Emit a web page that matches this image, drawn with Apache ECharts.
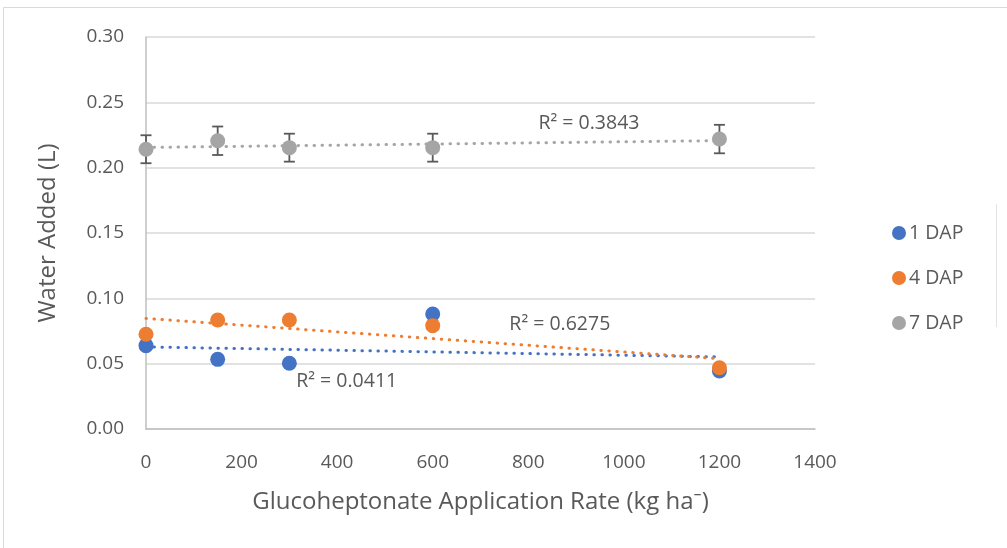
<!doctype html>
<html lang="en">
<head>
    <meta charset="UTF-8">
    <title>Water Added vs Glucoheptonate Rate</title>
    <script src="https://cdn.jsdelivr.net/npm/echarts@6/dist/echarts.min.js"></script>
    <style>
        html, body { margin: 0; padding: 0; background: #fff; }
        #chart { width: 1007px; height: 548px; }
    </style>
</head>
<body>
<div id="chart"></div>
<script>
    // data
    const rates = [0, 150, 300, 600, 1200]
    const dap1 = [0.0638, 0.0533, 0.0503, 0.0880, 0.0444]
    const dap4 = [0.0725, 0.0834, 0.0834, 0.0791, 0.0469]
    const dap7 = [0.2141, 0.2206, 0.2153, 0.2153, 0.2219]
    const dap7Err = [0.0107, 0.0109, 0.0107, 0.0107, 0.0109]
    const seriesNames = ['1 DAP', '4 DAP', '7 DAP']
    const r2Labels = ['R² = 0.0411', 'R² = 0.6275', 'R² = 0.3843']

    const colors = ['#4472C4', '#ED7D31', '#A5A5A5']
    const textColor = '#595959'
    const font = '"Open Sans", "Noto Sans", sans-serif'

    // least squares line, like Excel's linear trendline
    function trend(xs, ys) {
        const n = xs.length
        const mx = xs.reduce((a, b) => a + b, 0) / n
        const my = ys.reduce((a, b) => a + b, 0) / n
        let sxy = 0, sxx = 0
        for (let i = 0; i < n; i++) {
            sxy += (xs[i] - mx) * (ys[i] - my)
            sxx += (xs[i] - mx) * (xs[i] - mx)
        }
        const b = sxy / sxx
        const a = my - b * mx
        const x0 = xs[0], x1 = xs[n - 1]
        return [[x0, a + b * x0], [x1, a + b * x1]]
    }

    const pts = arr => rates.map((x, i) => [x, arr[i]])
    const all = [dap1, dap4, dap7]

    // R² label positions (data coords)
    const r2Pos = [[420, 0.0367], [866, 0.0804], [927, 0.2342]]

    const series = []
    all.forEach((arr, k) => {
        series.push({
            name: seriesNames[k] + ' trend',
            type: 'line',
            data: trend(rates, arr),
            symbol: 'none',
            silent: true,
            z: 2,
            lineStyle: { color: colors[k], width: 3, type: [0.5, 7.5], cap: 'round' },
            markPoint: {
                symbol: 'rect',
                symbolSize: 1,
                itemStyle: { color: 'transparent' },
                label: {
                    show: true,
                    formatter: r2Labels[k],
                    color: textColor,
                    fontSize: 19.5,
                    fontFamily: font
                },
                data: [{ coord: r2Pos[k] }]
            }
        })
    })

    // error bars for 7 DAP
    series.push({
        name: '7 DAP err',
        type: 'custom',
        z: 3,
        silent: true,
        data: rates.map((x, i) => [x, dap7[i] - dap7Err[i], dap7[i] + dap7Err[i]]),
        renderItem: function (params, api) {
            const lo = api.coord([api.value(0), api.value(1)])
            const hi = api.coord([api.value(0), api.value(2)])
            const w = 5.5
            const st = { stroke: '#595959', lineWidth: 1.8 }
            return {
                type: 'group',
                children: [
                    { type: 'line', shape: { x1: lo[0], y1: lo[1], x2: hi[0], y2: hi[1] }, style: st },
                    { type: 'line', shape: { x1: lo[0] - w, y1: lo[1], x2: lo[0] + w, y2: lo[1] }, style: st },
                    { type: 'line', shape: { x1: hi[0] - w, y1: hi[1], x2: hi[0] + w, y2: hi[1] }, style: st }
                ]
            }
        }
    })

    all.forEach((arr, k) => {
        series.push({
            name: seriesNames[k],
            type: 'scatter',
            data: pts(arr),
            symbolSize: 15,
            z: 4,
            itemStyle: { color: colors[k], opacity: 1 }
        })
    })

    const chart = echarts.init(document.getElementById('chart'), null, { renderer: 'canvas' })
    chart.setOption({
        animation: false,
        backgroundColor: '#fff',
        textStyle: { fontFamily: font },
        grid: { left: 146, top: 37, right: 192, bottom: 119 },
        legend: {
            data: seriesNames.map((n, k) => ({ name: n, icon: 'circle', itemStyle: { color: colors[k] } })),
            orient: 'vertical',
            left: 887,
            top: 218,
            itemWidth: 14,
            itemHeight: 14,
            itemGap: 25,
            textStyle: { color: textColor, fontSize: 19.5, fontFamily: font, padding: [0, 0, 0, -2] }
        },
        xAxis: {
            type: 'value',
            min: 0,
            max: 1400,
            interval: 200,
            name: 'Glucoheptonate Application Rate (kg ha⁻)',
            nameLocation: 'middle',
            nameGap: 61,
            nameTextStyle: { color: textColor, fontSize: 24, fontFamily: font },
            axisLine: { show: true, lineStyle: { color: '#BFBFBF', width: 1.5 } },
            axisTick: { show: false },
            axisLabel: { color: textColor, fontSize: 19, margin: 24, fontFamily: font, formatter: v => String(v) },
            splitLine: { show: false }
        },
        yAxis: {
            type: 'value',
            min: 0,
            max: 0.3,
            interval: 0.05,
            name: 'Water Added (L)',
            nameLocation: 'middle',
            nameGap: 86,
            nameRotate: 90,
            nameTextStyle: { color: textColor, fontSize: 24, fontFamily: font },
            axisLine: { show: true, lineStyle: { color: '#BFBFBF', width: 1.5 } },
            axisTick: { show: false },
            axisLabel: {
                color: textColor, fontSize: 19, margin: 22, fontFamily: font,
                formatter: v => v.toFixed(2)
            },
            splitLine: { show: true, lineStyle: { color: '#D9D9D9', width: 1.5 } }
        },
        graphic: [
            { type: 'line', shape: { x1: 3.5, y1: 7.5, x2: 1007, y2: 7.5 }, style: { stroke: '#D9D9D9', lineWidth: 1 } },
            { type: 'line', shape: { x1: 3.5, y1: 7.5, x2: 3.5, y2: 548 }, style: { stroke: '#D9D9D9', lineWidth: 1 } },
            { type: 'line', shape: { x1: 996.5, y1: 204, x2: 996.5, y2: 327 }, style: { stroke: '#E3E3E3', lineWidth: 1 } }
        ],
        series: series
    })
</script>
</body>
</html>
